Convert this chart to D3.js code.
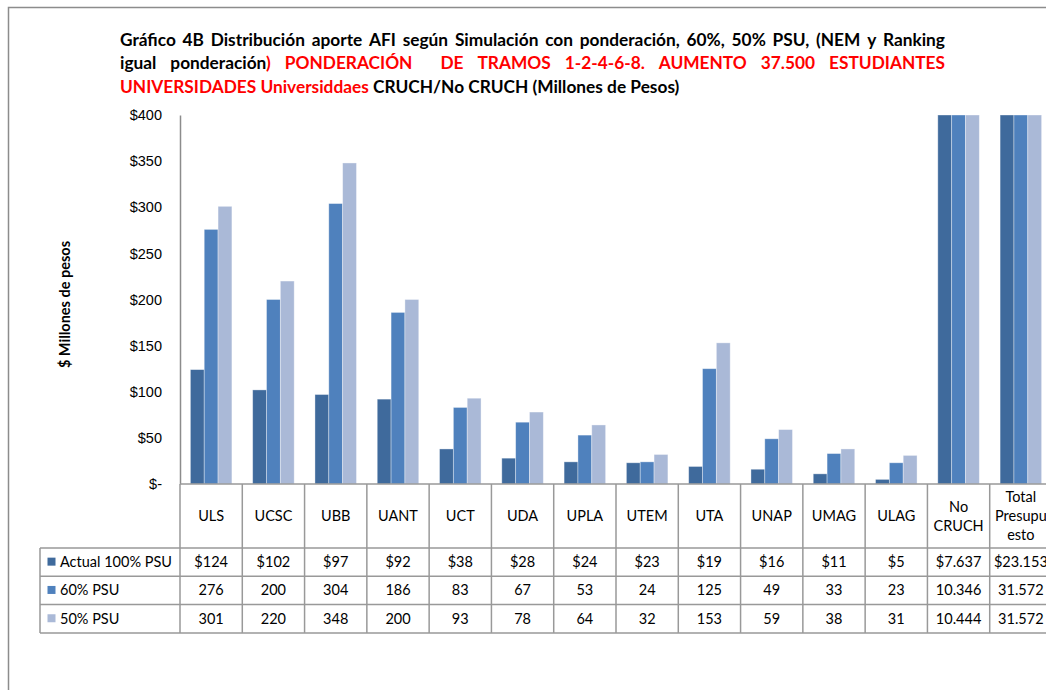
<!DOCTYPE html>
<head>
<meta charset="utf-8">
</head>
<style>
  body { margin: 0; background: #fff; }
  svg { font-family: Lato, "Open Sans", sans-serif; }
  .axis path, .axis line { fill: none; stroke: #8c8c8c; stroke-width: 1.5; }
  .axis text { font-size: 14.5px; fill: #000; }
  .grid { stroke: #999; stroke-width: 1.5; }
  .cell { font-size: 14.5px; fill: #000; text-anchor: middle; }
</style>
<body>
<script src="https://d3js.org/d3.v7.min.js"></script>
<script>

var categories = ["ULS", "UCSC", "UBB", "UANT", "UCT", "UDA", "UPLA", "UTEM", "UTA", "UNAP", "UMAG", "ULAG", "No CRUCH", "Total Presupuesto"]
// how the last two headers wrap in the table cells
var categoryLines = [["ULS"], ["UCSC"], ["UBB"], ["UANT"], ["UCT"], ["UDA"], ["UPLA"], ["UTEM"], ["UTA"], ["UNAP"], ["UMAG"], ["ULAG"], ["No", "CRUCH"], ["Total", "Presupu", "esto"]]

var seriesNames = ["Actual 100% PSU", "60% PSU", "50% PSU"]
var actual = [124, 102, 97, 92, 38, 28, 24, 23, 19, 16, 11, 5, 7637, 23153]
var psu60 = [276, 200, 304, 186, 83, 67, 53, 24, 125, 49, 33, 23, 10346, 31572]
var psu50 = [301, 220, 348, 200, 93, 78, 64, 32, 153, 59, 38, 31, 10444, 31572]
var seriesValues = [actual, psu60, psu50]

var yTicks = [0, 50, 100, 150, 200, 250, 300, 350, 400]

var colors = ["#3f6a9c", "#4f81bd", "#aab9d7"]

var width = 1046, height = 690

var svg = d3.select("body").append("svg")
    .attr("width", width)
    .attr("height", height)

// outer frame of the chart object (runs off the right/bottom)
svg.append("rect")
    .attr("x", 8.5).attr("y", 7.5)
    .attr("width", 1200).attr("height", 800)
    .attr("fill", "none")
    .attr("stroke", "#8c8c8c")
    .attr("stroke-width", 1.5)

// title, first two lines justified
var titleLines = [
  [["Gráfico"], ["4B"], ["Distribución"], ["aporte"], ["AFI"], ["según"], ["Simulación"], ["con"], ["ponderación,"], ["60%,"], ["50%"], ["PSU,"], ["(NEM"], ["y"], ["Ranking"]],
  [["igual"], ["ponderación", ")"], ["", "PONDERACIÓN"], [""], ["", "DE"], ["", "TRAMOS"], ["", "1-2-4-6-8."], ["", "AUMENTO"], ["", "37.500"], ["", "ESTUDIANTES"]]
]
var titleLeft = 120, titleRight = 945
var baselines = [46, 69, 93]
var titleSize = "17.3px"

titleLines.forEach(function(words, li) {
  var nodes = words.map(function(w) {
    var t = svg.append("text")
        .attr("y", baselines[li])
        .style("font-size", titleSize)
        .style("font-weight", "bold")
    t.append("tspan").attr("fill", "#000").text(w[0])
    if (w.length > 1) t.append("tspan").attr("fill", "#ff0000").text(w[1])
    return t
  })
  var widths = nodes.map(function(t) { return t.node().getComputedTextLength() })
  var gap = (titleRight - titleLeft - d3.sum(widths)) / (nodes.length - 1)
  var xPos = titleLeft
  nodes.forEach(function(t, i) {
    t.attr("x", xPos)
    xPos += widths[i] + gap
  })
})

var line3 = svg.append("text")
    .attr("x", titleLeft)
    .attr("y", baselines[2])
    .style("font-size", titleSize)
    .style("font-weight", "bold")
line3.append("tspan").attr("fill", "#ff0000").text("UNIVERSIDADES Universiddaes")
line3.append("tspan").attr("fill", "#000").text(" CRUCH/No CRUCH (Millones de Pesos)")

// scales
var plotLeft = 180, plotRight = 1052, plotTop = 115, plotBottom = 484

var x0 = d3.scaleBand()
    .domain(categories)
    .range([plotLeft, plotRight])

var bw = x0.bandwidth()
var barW = bw / 4.5
var x1 = d3.scaleBand()
    .domain(seriesNames)
    .range([(bw - 3 * barW) / 2, (bw + 3 * barW) / 2])

var y = d3.scaleLinear()
    .domain([0, 400])
    .range([plotBottom, plotTop])
    .clamp(true)

// bars
var rows = categories.map(function(c, i) {
  return { cat: c, values: seriesNames.map(function(s, j) { return { series: s, idx: j, value: seriesValues[j][i] } }) }
})

var group = svg.selectAll(".slice")
    .data(rows)
  .enter().append("g")
    .attr("class", "slice")
    .attr("transform", function(d) { return "translate(" + x0(d.cat) + ",0)" })

group.selectAll("rect")
    .data(function(d) { return d.values })
  .enter().append("rect")
    .attr("x", function(d) { return x1(d.series) })
    .attr("width", x1.bandwidth())
    .attr("y", function(d) { return y(d.value) })
    .attr("height", function(d) { return y(0) - y(d.value) })
    .attr("fill", function(d) { return colors[d.idx] })
    .attr("stroke", "rgba(255,255,255,0.45)")
    .attr("stroke-width", 0.8)

// y axis
var yAxis = d3.axisLeft(y)
    .tickValues(yTicks)
    .tickSize(0)
    .tickPadding(18)
    .tickFormat(function(d) { return d === 0 ? "$-" : "$" + d })

svg.append("g")
    .attr("class", "y axis")
    .attr("transform", "translate(" + plotLeft + ",0)")
    .call(yAxis)

svg.append("text")
    .attr("transform", "translate(70," + ((plotTop + plotBottom) / 2 + 5) + ") rotate(-90)")
    .style("text-anchor", "middle")
    .style("font-size", "14.5px")
    .style("font-weight", "bold")
    .text("$ Millones de pesos")

// data table under the plot
var headerBottom = 548, rowH = 28.3
var tableLeft = 40
var grid = svg.append("g")

x0.domain().forEach(function(c) {
  grid.append("line").attr("class", "grid")
      .attr("x1", x0(c) + bw).attr("x2", x0(c) + bw)
      .attr("y1", plotBottom).attr("y2", headerBottom + 3 * rowH)
})
grid.append("line").attr("class", "grid")
    .attr("x1", plotLeft).attr("x2", plotLeft)
    .attr("y1", plotBottom).attr("y2", headerBottom + 3 * rowH)
grid.append("line").attr("class", "grid")
    .attr("x1", tableLeft).attr("x2", tableLeft)
    .attr("y1", headerBottom).attr("y2", headerBottom + 3 * rowH)
d3.range(4).forEach(function(r) {
  grid.append("line").attr("class", "grid")
      .attr("x1", tableLeft).attr("x2", plotRight)
      .attr("y1", headerBottom + r * rowH).attr("y2", headerBottom + r * rowH)
})
grid.append("line").attr("class", "grid")
    .attr("x1", plotLeft).attr("x2", plotRight)
    .attr("y1", plotBottom).attr("y2", plotBottom)

// category headers
categories.forEach(function(c, i) {
  var lines = categoryLines[i]
  var cy = (plotBottom + headerBottom) / 2
  lines.forEach(function(l, k) {
    svg.append("text").attr("class", "cell")
        .attr("x", x0(c) + bw / 2)
        .attr("y", cy + (k - (lines.length - 1) / 2) * 19 + 5)
        .text(l)
  })
})

var fmt = d3.formatLocale({ decimal: ",", thousands: ".", grouping: [3], currency: ["$", ""] }).format(",d")

seriesNames.forEach(function(s, j) {
  var cy = headerBottom + j * rowH + rowH / 2 + 5
  svg.append("rect")
      .attr("x", 47.5).attr("y", cy - 9.5)
      .attr("width", 8).attr("height", 8)
      .attr("fill", colors[j])
  svg.append("text")
      .attr("x", 60).attr("y", cy)
      .style("font-size", "14.5px")
      .text(s)
  categories.forEach(function(c, i) {
    var v = seriesValues[j][i]
    svg.append("text").attr("class", "cell")
        .attr("x", x0(c) + bw / 2)
        .attr("y", cy)
        .text((j === 0 ? "$" : "") + fmt(v))
  })
})

</script>
</body>
